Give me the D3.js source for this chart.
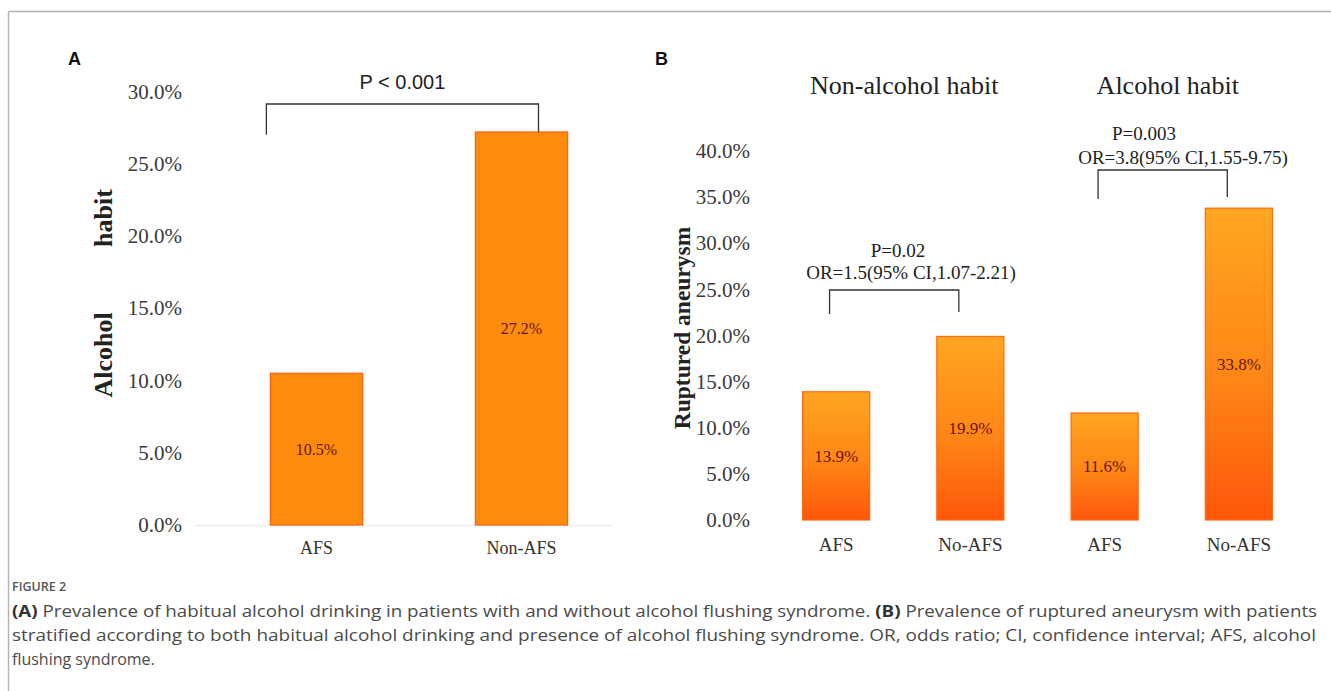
<!DOCTYPE html>
<html>
<head>
<meta charset="utf-8">
<script src="https://cdn.jsdelivr.net/npm/d3@7"></script>
<style>
  html, body { margin: 0; padding: 0; background: #fff; }
  svg { display: block; }
</style>
</head>
<body>
<svg id="chart" width="1331" height="691"></svg>
<script>
// ---------- Data ----------
const panelACategories = ["AFS", "Non-AFS"];
const panelAValues = [10.5, 27.2];
const panelATicks = [0, 5, 10, 15, 20, 25, 30];
const panelAPText = "P < 0.001";

const panelBGroups = ["Non-alcohol habit", "Alcohol habit"];
const panelBCategories = ["AFS", "No-AFS", "AFS", "No-AFS"];
const panelBValues = [13.9, 19.9, 11.6, 33.8];
const panelBTicks = [0, 5, 10, 15, 20, 25, 30, 35, 40];
const panelBStats = [
  ["P=0.02", "OR=1.5(95% CI,1.07-2.21)"],
  ["P=0.003", "OR=3.8(95% CI,1.55-9.75)"]
];

const captionTitle = "FIGURE 2";
const captionLines = [
  [["(A)", true], [" Prevalence of habitual alcohol drinking in patients with and without alcohol flushing syndrome. ", false], ["(B)", true], [" Prevalence of ruptured aneurysm with patients", false]],
  [["stratified according to both habitual alcohol drinking and presence of alcohol flushing syndrome. OR, odds ratio; CI, confidence interval; AFS, alcohol", false]],
  [["flushing syndrome.", false]]
];

// ---------- Setup ----------
const svg = d3.select("#chart");
const serif = "'Liberation Serif', 'Times New Roman', serif";
const sans = "'Liberation Sans', Arial, sans-serif";
const fmt = d => d.toFixed(1) + "%";

// frame
svg.append("line").attr("x1", 8.5).attr("x2", 1331).attr("y1", 11.5).attr("y2", 11.5)
  .attr("stroke", "#b4b4b4").attr("stroke-width", 1.5);
svg.append("line").attr("x1", 8.5).attr("x2", 8.5).attr("y1", 11.5).attr("y2", 691)
  .attr("stroke", "#b4b4b4").attr("stroke-width", 1.5);

// gradients
const defs = svg.append("defs");
const gB = defs.append("linearGradient").attr("id", "gradB")
  .attr("x1", 0).attr("x2", 0).attr("y1", 0).attr("y2", 1);
gB.append("stop").attr("offset", "0%").attr("stop-color", "#ffa622");
gB.append("stop").attr("offset", "55%").attr("stop-color", "#ff8616");
gB.append("stop").attr("offset", "100%").attr("stop-color", "#ff560a");

// ---------- Panel A ----------
const A = svg.append("g");
A.append("text").attr("x", 68).attr("y", 65).text("A")
  .attr("font-family", sans).attr("font-weight", "bold").attr("font-size", 18).attr("fill", "#111");

const xA = d3.scaleBand().domain(panelACategories).range([214, 624])
  .paddingInner(0.55).paddingOuter(0.275);
const yA = d3.scaleLinear().domain([0, 30]).range([525, 91.5]);

// baseline
A.append("line").attr("x1", 195).attr("x2", 612).attr("y1", yA(0) + 0.5).attr("y2", yA(0) + 0.5)
  .attr("stroke", "#ececec").attr("stroke-width", 1.5);

const axA = A.append("g").attr("transform", "translate(182,0)")
  .call(d3.axisLeft(yA).tickValues(panelATicks).tickFormat(fmt).tickSize(0).tickPadding(0));
axA.select(".domain").remove();
axA.selectAll("text").attr("font-family", serif).attr("font-size", 21).attr("fill", "#3a3a3a");

A.selectAll("rect.bar").data(panelAValues).join("rect").attr("class", "bar")
  .attr("x", (d, i) => xA(panelACategories[i]))
  .attr("width", xA.bandwidth())
  .attr("y", d => yA(d)).attr("height", d => yA(0) - yA(d))
  .attr("fill", "#fd8c0e").attr("stroke", "#ff5f12").attr("stroke-width", 1.2);

A.selectAll("text.val").data(panelAValues).join("text").attr("class", "val")
  .attr("x", (d, i) => xA(panelACategories[i]) + xA.bandwidth() / 2)
  .attr("y", d => yA(d / 2)).attr("dy", "0.35em").attr("text-anchor", "middle")
  .attr("font-family", serif).attr("font-size", 16).attr("fill", "#6a1400")
  .text(d => d.toFixed(1) + "%");

A.selectAll("text.cat").data(panelACategories).join("text").attr("class", "cat")
  .attr("x", d => xA(d) + xA.bandwidth() / 2).attr("y", 554).attr("text-anchor", "middle")
  .attr("font-family", serif).attr("font-size", 18).attr("fill", "#333").text(d => d);

// y label (Alcohol ... habit)
A.append("text").attr("transform", `translate(112,${355}) rotate(-90)`).attr("text-anchor", "middle")
  .attr("font-family", serif).attr("font-weight", "bold").attr("font-size", 26).attr("fill", "#222").text("Alcohol");
A.append("text").attr("transform", `translate(112,${218}) rotate(-90)`).attr("text-anchor", "middle")
  .attr("font-family", serif).attr("font-weight", "bold").attr("font-size", 26).attr("fill", "#222").text("habit");

// bracket A
{
  const xl = xA(panelACategories[0]) - 4, xr = xA(panelACategories[1]) + xA.bandwidth() / 2 + 17;
  const yt = 104;
  A.append("path").attr("d", `M${xl},${yA(27.0)}V${yt}H${xr}V${yA(panelAValues[1])}`)
    .attr("fill", "none").attr("stroke", "#333").attr("stroke-width", 1.3);
  A.append("text").attr("x", (xl + xr) / 2).attr("y", 89).attr("text-anchor", "middle")
    .attr("font-family", sans).attr("font-size", 20).attr("fill", "#222").text(panelAPText);
}

// ---------- Panel B ----------
const B = svg.append("g");
B.append("text").attr("x", 655).attr("y", 65).text("B")
  .attr("font-family", sans).attr("font-weight", "bold").attr("font-size", 18).attr("fill", "#111");

const idxB = panelBCategories.map((c, i) => i);
const xB = d3.scaleBand().domain(idxB).range([769, 1306]).paddingInner(0.5).paddingOuter(0.25);
const yB = d3.scaleLinear().domain([0, 40]).range([520, 151]);

const axB = B.append("g").attr("transform", "translate(750,0)")
  .call(d3.axisLeft(yB).tickValues(panelBTicks).tickFormat(fmt).tickSize(0).tickPadding(0));
axB.select(".domain").remove();
axB.selectAll("text").attr("font-family", serif).attr("font-size", 21).attr("fill", "#3a3a3a");

B.selectAll("rect.bar").data(panelBValues).join("rect").attr("class", "bar")
  .attr("x", (d, i) => xB(i)).attr("width", xB.bandwidth())
  .attr("y", d => yB(d)).attr("height", d => yB(0) - yB(d))
  .attr("fill", "url(#gradB)").attr("stroke", "#ff6a14").attr("stroke-width", 1.2);

B.selectAll("text.val").data(panelBValues).join("text").attr("class", "val")
  .attr("x", (d, i) => xB(i) + xB.bandwidth() / 2)
  .attr("y", d => yB(d / 2)).attr("dy", "0.35em").attr("text-anchor", "middle")
  .attr("font-family", serif).attr("font-size", 17).attr("fill", "#6a1400")
  .text(d => d.toFixed(1) + "%");

B.selectAll("text.cat").data(panelBCategories).join("text").attr("class", "cat")
  .attr("x", (d, i) => xB(i) + xB.bandwidth() / 2).attr("y", 551).attr("text-anchor", "middle")
  .attr("font-family", serif).attr("font-size", 19).attr("fill", "#333").text(d => d);

// group titles
const grpShift = [0, -5];
B.selectAll("text.grp").data(panelBGroups).join("text").attr("class", "grp")
  .attr("x", (d, i) => (xB(2 * i) + xB(2 * i + 1) + xB.bandwidth()) / 2 + 1 + grpShift[i])
  .attr("y", 94).attr("text-anchor", "middle")
  .attr("font-family", serif).attr("font-size", 26).attr("fill", "#222").text(d => d);

// y label
B.append("text").attr("transform", `translate(690,328) rotate(-90)`).attr("text-anchor", "middle")
  .attr("font-family", serif).attr("font-weight", "bold").attr("font-size", 23.5).attr("fill", "#222")
  .text("Ruptured aneurysm");

// brackets B
const bracketB = [
  { a: 0, b: 1, top: 290, legL: 314, legR: 312, p: [898, 257], or: [911, 279] },
  { a: 2, b: 3, top: 170, legL: 199, legR: 197, p: [1144, 140], or: [1183, 164] }
];
bracketB.forEach((br, k) => {
  const xl = xB(br.a) + 27, xr = xB(br.b) + 22;
  B.append("path").attr("d", `M${xl},${br.legL}V${br.top}H${xr}V${br.legR}`)
    .attr("fill", "none").attr("stroke", "#333").attr("stroke-width", 1.3);
  B.append("text").attr("x", br.p[0]).attr("y", br.p[1]).attr("text-anchor", "middle")
    .attr("font-family", serif).attr("font-size", 19).attr("fill", "#222").text(panelBStats[k][0]);
  B.append("text").attr("x", br.or[0]).attr("y", br.or[1]).attr("text-anchor", "middle")
    .attr("font-family", serif).attr("font-size", 19).attr("fill", "#222").text(panelBStats[k][1]);
});

// ---------- Caption ----------
const cap = "'Open Sans', 'Noto Sans', sans-serif";
svg.append("text").attr("x", 12).attr("y", 591).attr("font-family", cap).attr("font-size", 12.5)
  .attr("fill", "#555").attr("font-weight", 600).text(captionTitle);
const lineY = [617, 641, 665];
const lineW = [1305, 1304, null];
captionLines.forEach((parts, i) => {
  const t = svg.append("text").attr("x", 12).attr("y", lineY[i])
    .attr("font-family", cap).attr("font-size", 16).attr("fill", "#4a4a4a");
  parts.forEach(([s, b]) => t.append("tspan").attr("font-weight", b ? 700 : 400).attr("fill", b ? "#333" : "#4a4a4a").text(s));
  if (lineW[i]) t.attr("textLength", lineW[i]).attr("lengthAdjust", "spacingAndGlyphs");
});
</script>
</body>
</html>
